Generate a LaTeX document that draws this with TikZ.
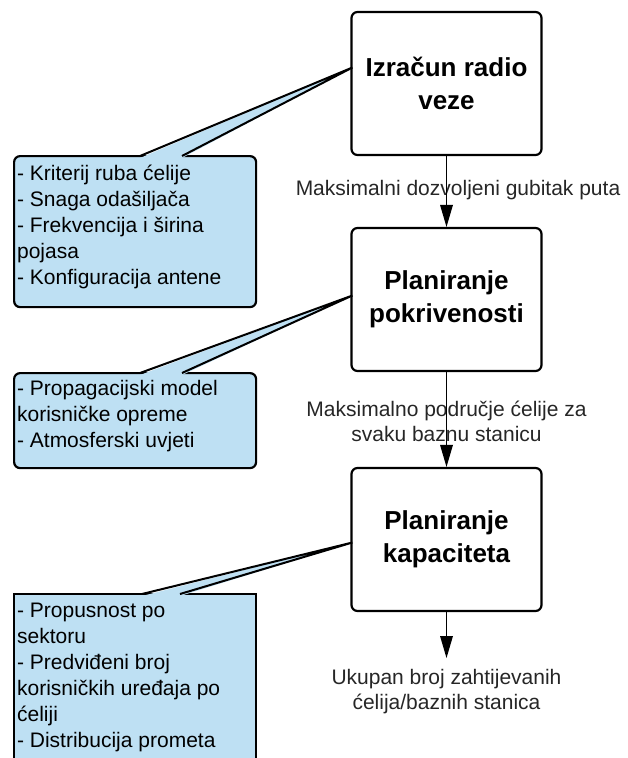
\documentclass[tikz,border=0pt]{standalone}
\usepackage{fontspec}
\setmainfont{Liberation Sans}
\usetikzlibrary{calc}
\definecolor{noteblue}{RGB}{190,224,243}

\begin{document}
\begin{tikzpicture}[x=1pt,y=-1pt]
\tikzstyle{every node}+=[inner sep=0pt]
\tikzstyle{stepbox}=[draw, fill=white, line width=2.2pt, rounded corners=6pt, minimum width=190pt, minimum height=143pt, align=center, font=\bfseries\fontsize{26}{33}\selectfont]
\tikzstyle{notebox}=[draw, fill=noteblue, line width=2.2pt, rounded corners=6pt, anchor=north west, inner sep=3pt, font=\fontsize{21}{26}\selectfont]
\tikzstyle{edgetext}=[align=center, text=black!85, font=\fontsize{21}{25}\selectfont]
\tikzstyle{flowline}=[line width=1.8pt, shorten >=12pt]
\useasboundingbox (0,0) rectangle (628,758);
\clip (0,0) rectangle (628,758);
% main steps
\node [stepbox] (izracun) at (446.5,83.5) {Izračun radio\\veze};
\node [stepbox] (pokriv) at (446.5,299.5) {Planiranje\\pokrivenosti};
\node [stepbox] (kapac) at (446.5,539.5) {Planiranje\\kapaciteta};
% notes
\node [notebox] (krit) at (13,155) {\parbox[c][145pt][t]{236pt}{\raggedright\vspace*{6pt}
- Kriterij ruba ćelije\\
- Snaga odašiljača\\
- Frekvencija i širina\\
pojasa\\
- Konfiguracija antene}};
\node [notebox] (propag) at (13,372) {\parbox[c][89pt][t]{236pt}{\raggedright\vspace*{4pt}
- Propagacijski model\\
korisničke opreme\\
- Atmosferski uvjeti}};
\node [notebox, rounded corners=0pt] (propus) at (13,593) {\parbox[c][200pt][t]{236pt}{\raggedright\vspace*{6pt}
- Propusnost po\\
sektoru\\
- Predviđeni broj\\
korisničkih uređaja po\\
ćeliji\\
- Distribucija prometa}};
% callout pointers
\coordinate (krittip) at ($(izracun.west)+(2,-16)$);
\fill [noteblue] ($(krit.north west)+(127,3)$) -- (krittip) -- ($(krit.north west)+(169,3)$) -- cycle;
\draw [line width=2pt] ($(krit.north west)+(127,1)$) -- (krittip) -- ($(krit.north west)+(169,1)$);
\coordinate (propagtip) at ($(pokriv.west)+(2,-4)$);
\fill [noteblue] ($(propag.north west)+(127,3)$) -- (propagtip) -- ($(propag.north west)+(169,3)$) -- cycle;
\draw [line width=2pt] ($(propag.north west)+(127,1)$) -- (propagtip) -- ($(propag.north west)+(169,1)$);
\coordinate (propustip) at ($(kapac.west)+(2,3)$);
\fill [noteblue] ($(propus.north west)+(129,3)$) -- (propustip) -- ($(propus.north west)+(167,3)$) -- cycle;
\draw [line width=2pt] ($(propus.north west)+(129,1)$) -- (propustip) -- ($(propus.north west)+(167,1)$);
% flow labels
\node [edgetext] (gubitak) at (458,190) {Maksimalni dozvoljeni gubitak puta};
\node [edgetext] (podrucje) at (446.5,421.5) {Maksimalno područje ćelije za\\svaku baznu stanicu};
\node [edgetext] (ukupan) at (446.5,692) {Ukupan broj zahtijevanih\\ćelija/baznih stanica};
% flow arrows
\coordinate (kraj) at (446.5,658);
\draw [flowline] (izracun.south) -- (pokriv.north);
\fill (pokriv.north) -- ++(-6.5,-22) -- ++(13,0) -- cycle;
\draw [flowline] (pokriv.south) -- (kapac.north);
\fill (kapac.north) -- ++(-6.5,-22) -- ++(13,0) -- cycle;
\draw [flowline] (kapac.south) -- (kraj);
\fill (kraj) -- ++(-6.5,-22) -- ++(13,0) -- cycle;
\end{tikzpicture}
\end{document}
